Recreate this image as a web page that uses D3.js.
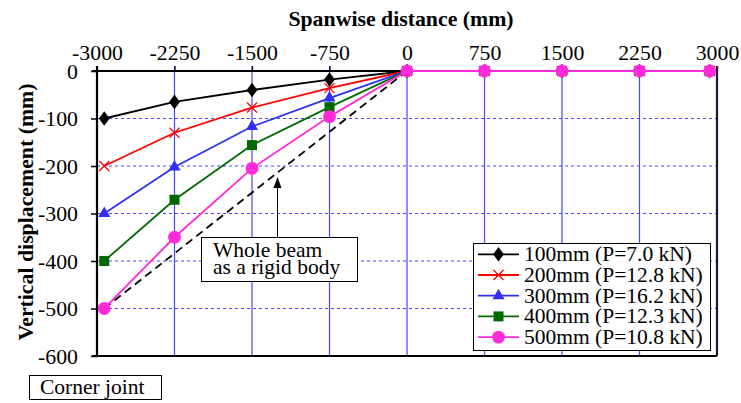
<!DOCTYPE html>
<html>
<head>
<meta charset="utf-8">
<script src="https://cdn.jsdelivr.net/npm/d3@7"></script>
<style>
  html, body { margin: 0; padding: 0; background: #fff; }
  svg text { font-family: "Liberation Serif", "Times New Roman", Tinos, "DejaVu Serif", serif; }
</style>
</head>
<body>
<svg id="chart" width="741" height="403"></svg>
<script>
// Measurement stations along the span (mm)
const stations = [-2930, -2250, -1500, -750, 0, 750, 1500, 2250, 2930];

// Vertical displacement at each station (mm)
const disp100 = [-100, -65, -40, -18, 0, 0, 0, 0, 0];
const disp200 = [-200, -130, -77, -36, 0, 0, 0, 0, 0];
const disp300 = [-300, -202, -117, -57, 0, 0, 0, 0, 0];
const disp400 = [-400, -271, -156, -76, 0, 0, 0, 0, 0];
const disp500 = [-500, -350, -205, -96, 0, 0, 0, 0, 0];

const seriesNames = ["100mm (P=7.0 kN)", "200mm (P=12.8 kN)", "300mm (P=16.2 kN)", "400mm (P=12.3 kN)", "500mm (P=10.8 kN)"];
const seriesColors = ["#000000", "#ff0000", "#2f2ff5", "#006a00", "#ff2ad8"];
const seriesMarkers = ["diamond", "cross", "triangle", "square", "circle"];
const seriesValues = [disp100, disp200, disp300, disp400, disp500];

// Rigid-body rotation of the whole beam about mid-span
const rigidX = [-2930, 0];
const rigidY = [-500, 0];

const xTicks = [-3000, -2250, -1500, -750, 0, 750, 1500, 2250, 3000];
const yTicks = [0, -100, -200, -300, -400, -500, -600];

const SERIF = "'Liberation Serif', 'Times New Roman', Tinos, 'DejaVu Serif', serif";

(function draw() {
  const svg = d3.select("#chart");
  const pLeft = 97, pRight = 717, pTop = 71, pBottom = 356;

  const x = d3.scaleLinear().domain([-3000, 3000]).range([pLeft, pRight]);
  const y = d3.scaleLinear().domain([0, -600]).range([pTop, pBottom]);

  const gridColor = "#4646ff";

  // Horizontal dashed gridlines
  svg.append("g").selectAll("line")
    .data(yTicks.filter(d => d !== 0 && d !== -600))
    .join("line")
    .attr("x1", pLeft).attr("x2", pRight)
    .attr("y1", d => y(d)).attr("y2", d => y(d))
    .attr("stroke", gridColor).attr("stroke-width", 1)
    .attr("stroke-dasharray", "3,3");

  // Vertical solid gridlines (extend above the top axis as tick marks)
  svg.append("g").selectAll("line")
    .data(xTicks.filter(d => d !== -3000 && d !== 3000))
    .join("line")
    .attr("x1", d => x(d)).attr("x2", d => x(d))
    .attr("y1", pTop - 5).attr("y2", pBottom)
    .attr("stroke", gridColor).attr("stroke-width", 1.2);

  // Top axis with labels
  const xAxis = svg.append("g")
    .attr("transform", `translate(0,${pTop})`)
    .call(d3.axisTop(x).tickValues(xTicks).tickSize(5).tickPadding(6).tickFormat(d => String(d)))
    .attr("font-family", SERIF).attr("font-size", 21.8);
  xAxis.select(".domain").remove();
  xAxis.selectAll(".tick line").attr("stroke", "#000").attr("stroke-width", 1.2);
  xAxis.selectAll(".tick text").attr("fill", "#000");

  // Left axis with labels
  const yAxis = svg.append("g")
    .attr("transform", `translate(${pLeft},0)`)
    .call(d3.axisLeft(y).tickValues(yTicks).tickSize(6).tickPadding(13).tickFormat(d => String(d)))
    .attr("font-family", SERIF).attr("font-size", 21.8);
  yAxis.select(".domain").remove();
  yAxis.selectAll(".tick line").attr("stroke", "#000").attr("stroke-width", 1.5);
  yAxis.selectAll(".tick text").attr("fill", "#000").attr("dy", "0.34em");

  // Plot frame
  svg.append("line").attr("x1", pLeft - 5).attr("x2", pRight).attr("y1", y(0)).attr("y2", y(0))
    .attr("stroke", "#000").attr("stroke-width", 2.2);
  svg.append("line").attr("x1", pLeft).attr("x2", pLeft).attr("y1", pTop - 5).attr("y2", pBottom)
    .attr("stroke", "#000").attr("stroke-width", 2.2);
  svg.append("line").attr("x1", pLeft - 5).attr("x2", pRight).attr("y1", pBottom).attr("y2", pBottom)
    .attr("stroke", "#000").attr("stroke-width", 2);
  svg.append("line").attr("x1", pRight).attr("x2", pRight).attr("y1", pTop - 5).attr("y2", pBottom)
    .attr("stroke", "#1a1a2e").attr("stroke-width", 2.2);

  // Rigid-body reference line
  svg.append("path")
    .datum(rigidX.map((v, i) => [v, rigidY[i]]))
    .attr("d", d3.line().x(d => x(d[0])).y(d => y(d[1])))
    .attr("fill", "none").attr("stroke", "#000").attr("stroke-width", 1.8)
    .attr("stroke-dasharray", "8,5");

  // Marker drawing
  function drawMarker(g, type, color, cx, cy) {
    if (type === "diamond") {
      g.append("path").attr("d", d3.symbol(d3.symbolDiamond, 75)())
        .attr("transform", `translate(${cx},${cy}) scale(1.15,0.9)`).attr("fill", color);
    } else if (type === "cross") {
      const r = 5;
      g.append("path").attr("d", `M${cx - r},${cy - r}L${cx + r},${cy + r}M${cx - r},${cy + r}L${cx + r},${cy - r}`)
        .attr("stroke", color).attr("stroke-width", 1.3).attr("fill", "none");
    } else if (type === "triangle") {
      g.append("path").attr("d", d3.symbol(d3.symbolTriangle, 64)())
        .attr("transform", `translate(${cx},${cy})`).attr("fill", color);
    } else if (type === "square") {
      g.append("rect").attr("x", cx - 5).attr("y", cy - 5).attr("width", 10).attr("height", 10)
        .attr("fill", color);
    } else if (type === "circle") {
      g.append("circle").attr("cx", cx).attr("cy", cy).attr("r", 6.4).attr("fill", color);
    }
  }

  const line = d3.line().x(d => x(d[0])).y(d => y(d[1]));

  seriesValues.forEach((vals, i) => {
    const pts = stations.map((s, j) => [s, vals[j]]);
    const g = svg.append("g");
    g.append("path").datum(pts).attr("d", line)
      .attr("fill", "none").attr("stroke", seriesColors[i]).attr("stroke-width", 1.8);
    pts.forEach(p => drawMarker(g, seriesMarkers[i], seriesColors[i], x(p[0]), y(p[1])));
  });

  // Axis titles
  svg.append("text")
    .attr("x", 401).attr("y", 26).attr("text-anchor", "middle")
    .attr("font-family", SERIF).attr("font-size", 21.8).attr("font-weight", "bold")
    .text("Spanwise distance (mm)");

  svg.append("text")
    .attr("transform", "translate(33,212) rotate(-90)")
    .attr("text-anchor", "middle")
    .attr("font-family", SERIF).attr("font-size", 21.8).attr("font-weight", "bold")
    .text("Vertical displacement (mm)");

  // Annotation for the rigid-body line
  const ann = svg.append("g").attr("font-family", SERIF).attr("font-size", 21.5);
  ann.append("line").attr("x1", 277.5).attr("x2", 277.5).attr("y1", 237).attr("y2", 186)
    .attr("stroke", "#000").attr("stroke-width", 1);
  ann.append("path").attr("d", "M277.5,177L273.5,188L281.5,188Z").attr("fill", "#000");
  ann.append("rect").attr("x", 201.5).attr("y", 237.5).attr("width", 156).attr("height", 44)
    .attr("fill", "#fff").attr("stroke", "#000").attr("stroke-width", 1);
  ann.append("text").attr("x", 213).attr("y", 257).text("Whole beam");
  ann.append("text").attr("x", 213).attr("y", 274).text("as a rigid body");

  // Corner joint label
  svg.append("rect").attr("x", 29.5).attr("y", 375.5).attr("width", 132).attr("height", 24)
    .attr("fill", "#fff").attr("stroke", "#000").attr("stroke-width", 1);
  svg.append("text").attr("x", 40).attr("y", 394)
    .attr("font-family", SERIF).attr("font-size", 21.5).text("Corner joint");

  // Legend
  const legend = svg.append("g").attr("font-family", SERIF).attr("font-size", 21.5);
  legend.append("rect").attr("x", 473.5).attr("y", 243.5).attr("width", 237).attr("height", 107)
    .attr("fill", "#fff").attr("stroke", "#000").attr("stroke-width", 1);
  seriesNames.forEach((name, i) => {
    const cy = 254.3 + i * 20.7;
    legend.append("line").attr("x1", 478).attr("x2", 519).attr("y1", cy).attr("y2", cy)
      .attr("stroke", seriesColors[i]).attr("stroke-width", 1.8);
    drawMarker(legend, seriesMarkers[i], seriesColors[i], 498.5, cy);
    legend.append("text").attr("x", 524).attr("y", cy + 6.8).text(name);
  });
})();
</script>
</body>
</html>
